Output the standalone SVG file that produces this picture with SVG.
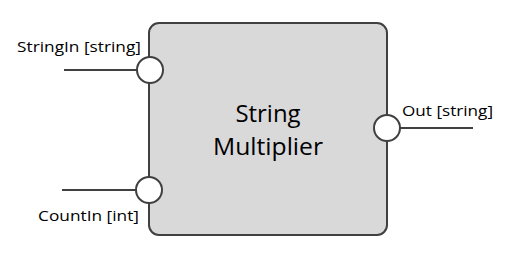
<svg xmlns="http://www.w3.org/2000/svg" width="508" height="255" viewBox="0 0 508 255">
<style>
.box{fill:#d9d9d9;stroke:#404040;stroke-width:2}
.port{fill:#ffffff;stroke:#404040;stroke-width:2}
.wire{stroke:#404040;stroke-width:2;fill:none}
.lbl{font-family:"Open Sans","Liberation Sans",sans-serif;font-size:15px;fill:#000}
.title{font-family:"Open Sans","Liberation Sans",sans-serif;font-size:24px;fill:#000;text-anchor:middle}
</style>
<g id="connectors">
<line class="wire" x1="64" y1="70" x2="137" y2="70"/>
<line class="wire" x1="62" y1="190" x2="136" y2="190"/>
<line class="wire" x1="400" y1="128" x2="473" y2="128"/>
</g>
<g id="node-multiplier">
<rect class="box" x="149" y="23" width="238" height="212" rx="10" ry="10"/>
<text class="title" x="268" y="122" textLength="65" lengthAdjust="spacingAndGlyphs">String</text>
<text class="title" x="268" y="155" textLength="110" lengthAdjust="spacingAndGlyphs">Multiplier</text>
</g>
<g id="port-stringin">
<circle class="port" cx="150" cy="70" r="13"/>
<text class="lbl" x="17" y="52" textLength="124" lengthAdjust="spacingAndGlyphs">StringIn [string]</text>
</g>
<g id="port-countin">
<circle class="port" cx="149" cy="190" r="13"/>
<text class="lbl" x="38" y="221" textLength="101" lengthAdjust="spacingAndGlyphs">CountIn [int]</text>
</g>
<g id="port-out">
<circle class="port" cx="387" cy="128" r="13"/>
<text class="lbl" x="402" y="116" textLength="91" lengthAdjust="spacingAndGlyphs">Out [string]</text>
</g>
</svg>
